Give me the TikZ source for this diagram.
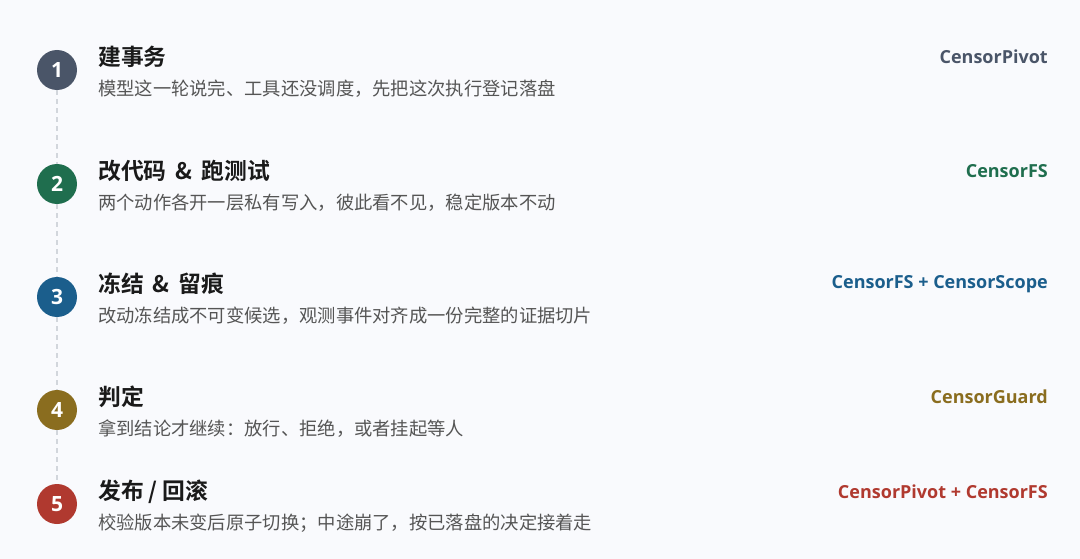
\documentclass[tikz,border=0pt]{standalone}
\usepackage{fontspec}
\usepackage{tikz}
\newfontfamily\cjk{Noto Sans CJK SC}[BoldFont={Noto Sans CJK SC Bold}]
\newfontfamily\latin{Open Sans}[BoldFont={Open Sans Bold}]
\definecolor{bgpage}{HTML}{F9FAFD}
\definecolor{slate}{HTML}{4A5568}
\definecolor{pine}{HTML}{1F6E4E}
\definecolor{ocean}{HTML}{1B5E8C}
\definecolor{olive}{HTML}{8A6D1F}
\definecolor{brick}{HTML}{B0392F}
\definecolor{ink}{HTML}{1A1A1A}
\definecolor{note}{HTML}{555555}
\definecolor{rail}{HTML}{D2D6DC}

\begin{document}
\begin{tikzpicture}[x=1pt, y=-1pt,
  dot/.style = {circle, inner sep=0pt, minimum size=40pt, text=white, font=\latin\bfseries\fontsize{21}{21}\selectfont},
  head/.style = {anchor=west, inner sep=0pt, text=ink, font=\cjk\bfseries\fontsize{22.8}{23}\selectfont},
  sub/.style = {anchor=west, inner sep=0pt, text=note, font=\cjk\fontsize{18.3}{19}\selectfont},
  mod/.style = {anchor=east, inner sep=0pt, font=\latin\bfseries\fontsize{18}{18}\selectfont}]
\fill[bgpage] (0,0) rectangle (1080,559);
\useasboundingbox (0,0) rectangle (1080,559);
% steps
\node[dot, fill=slate](c1) at (57,70) {1};
\node[dot, fill=pine](c2) at (57,184) {2};
\node[dot, fill=ocean](c3) at (57,297) {3};
\node[dot, fill=olive](c4) at (57,410) {4};
\node[dot, fill=brick](c5) at (57,504) {5};
\draw[rail, line width=1.3pt, dash pattern=on 5pt off 4pt] (c1) -- (c2);
\draw[rail, line width=1.3pt, dash pattern=on 5pt off 4pt] (c2) -- (c3);
\draw[rail, line width=1.3pt, dash pattern=on 5pt off 4pt] (c3) -- (c4);
\draw[rail, line width=1.3pt, dash pattern=on 5pt off 4pt] (c4) -- (c5);
% titles
\node[head](t1) at (98,57) {建事务};
\node[head](t2) at (98,171) {改代码 \,\&\, 跑测试};
\node[head](t3) at (98,284) {冻结 \,\&\, 留痕};
\node[head](t4) at (98,397) {判定};
\node[head](t5) at (98,492) {发布 / 回滚};
% notes
\node[sub](s1) at (98,89) {模型这一轮说完、工具还没调度，先把这次执行登记落盘};
\node[sub](s2) at (98,203) {两个动作各开一层私有写入，彼此看不见，稳定版本不动};
\node[sub](s3) at (98,316) {改动冻结成不可变候选，观测事件对齐成一份完整的证据切片};
\node[sub](s4) at (98,429) {拿到结论才继续：放行、拒绝，或者挂起等人};
\node[sub](s5) at (98,523) {校验版本未变后原子切换；中途崩了，按已落盘的决定接着走};
% modules
\node[mod, text=slate](m1) at (1048,57) {CensorPivot};
\node[mod, text=pine](m2) at (1048,171) {CensorFS};
\node[mod, text=ocean](m3) at (1048,284) {CensorFS + CensorScope};
\node[mod, text=olive](m4) at (1048,397) {CensorGuard};
\node[mod, text=brick](m5) at (1048,492) {CensorPivot + CensorFS};
\end{tikzpicture}
\end{document}
